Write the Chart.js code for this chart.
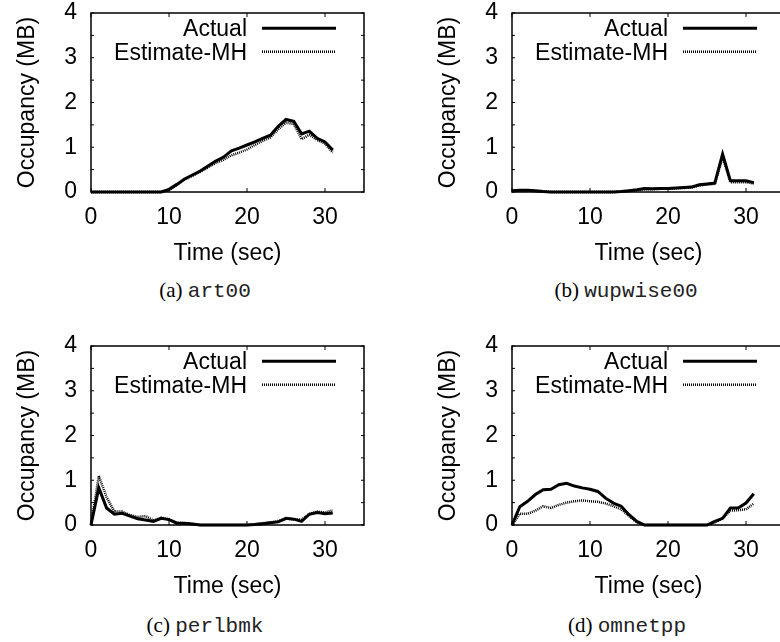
<!DOCTYPE html>
<html><head><meta charset="utf-8">
<script src="https://cdn.jsdelivr.net/npm/chart.js@4.4.1/dist/chart.umd.min.js"></script>
<style>
html,body{margin:0;padding:0;background:#fff;width:780px;height:642px;overflow:hidden;position:relative}
canvas{position:absolute}
.cap{position:absolute;font-family:"Liberation Serif","Times New Roman",serif;font-size:21px;color:#000;white-space:nowrap;transform:translate(-50%,-50%);line-height:1}
.cap .mono{font-family:"Liberation Mono","Courier New",monospace;font-size:21px;color:#222}
</style></head><body>
<canvas id="ca" width="390" height="270" style="left:0px;top:0px;width:390px;height:270px"></canvas>
<canvas id="cb" width="390" height="270" style="left:421px;top:0px;width:390px;height:270px"></canvas>
<canvas id="cc" width="390" height="270" style="left:0px;top:333px;width:390px;height:270px"></canvas>
<canvas id="cd" width="390" height="270" style="left:421px;top:333px;width:390px;height:270px"></canvas>
<div class="cap" style="left:205px;top:291px">(a) <span class="mono">art00</span></div>
<div class="cap" style="left:626px;top:291px">(b) <span class="mono">wupwise00</span></div>
<div class="cap" style="left:205px;top:626px">(c) <span class="mono">perlbmk</span></div>
<div class="cap" style="left:627px;top:626px">(d) <span class="mono">omnetpp</span></div>
<script>
const time = [0,1,2,3,4,5,6,7,8,9,10,11,12,13,14,15,16,17,18,19,20,21,22,23,24,25,26,27,28,29,30,31];
const xTicks = [0,10,20,30];
const yTicks = [0,1,2,3,4];
const seriesNames = ['Actual','Estimate-MH'];
const xTitle = 'Time (sec)';
const yTitle = 'Occupancy (MB)';

const art00Actual   = [0,0,0,0,0,0,0,0,0,0,0.06,0.17,0.29,0.38,0.47,0.58,0.69,0.78,0.92,0.98,1.05,1.12,1.2,1.27,1.47,1.62,1.58,1.3,1.36,1.2,1.12,0.94];
const art00Estimate = [0,0,0,0,0,0,0,0,0,0,0.04,0.16,0.28,0.36,0.45,0.55,0.65,0.72,0.82,0.88,0.95,1.05,1.14,1.22,1.4,1.55,1.52,1.18,1.28,1.16,1.08,0.88];
const wupwiseActual   = [0.03,0.04,0.04,0.03,0.01,0,0,0,0,0,0,0,0,0,0.01,0.03,0.05,0.08,0.07,0.08,0.08,0.09,0.1,0.11,0.16,0.18,0.2,0.85,0.25,0.25,0.25,0.21];
const wupwiseEstimate = [0.02,0.03,0.03,0.02,0.01,0,0,0,0,0,0,0,0,0,0.01,0.02,0.04,0.06,0.06,0.07,0.07,0.08,0.09,0.1,0.14,0.17,0.18,0.78,0.22,0.22,0.22,0.19];
const perlbmkActual   = [0,0.83,0.38,0.24,0.26,0.2,0.14,0.11,0.08,0.15,0.12,0.04,0.04,0.02,0,0,0,0,0,0,0,0.01,0.03,0.05,0.07,0.15,0.13,0.08,0.24,0.28,0.25,0.27];
const perlbmkEstimate = [0,1.1,0.62,0.3,0.3,0.22,0.18,0.2,0.1,0.16,0.13,0.05,0.04,0.02,0,0,0,0,0,0,0,0.02,0.04,0.06,0.09,0.14,0.13,0.12,0.25,0.3,0.28,0.33];
const omnetppActual   = [0,0.41,0.53,0.68,0.79,0.8,0.9,0.93,0.87,0.83,0.8,0.75,0.6,0.49,0.42,0.23,0.08,0,0,0,0,0,0,0,0,0,0.08,0.15,0.38,0.38,0.49,0.7];
const omnetppEstimate = [0,0.25,0.25,0.32,0.42,0.38,0.45,0.5,0.53,0.55,0.53,0.52,0.48,0.42,0.35,0.2,0.06,0,0,0,0,0,0,0,0,0,0.06,0.15,0.32,0.33,0.35,0.48];

const FONT = {family:'"Liberation Sans", Arial, sans-serif', size:23};

const framePlugin = {
  id:'frame',
  afterDatasetsDraw(chart){
    const {ctx, chartArea:a, scales} = chart;
    ctx.save();
    ctx.strokeStyle = '#000';
    ctx.lineWidth = 1.5;
    ctx.strokeRect(a.left, a.top, a.right - a.left, a.bottom - a.top);
    ctx.lineWidth = 1;
    ctx.beginPath();
    const yMarks = [];
    yTicks.forEach((v,i)=>{ yMarks.push(v); if (i < yTicks.length-1) yMarks.push((v + yTicks[i+1]) / 2); });
    yMarks.forEach(v=>{
      const py = scales.y.getPixelForValue(v);
      ctx.moveTo(a.left, py); ctx.lineTo(a.left + 3, py);
      ctx.moveTo(a.right, py); ctx.lineTo(a.right - 3, py);
    });
    xTicks.forEach(v=>{
      const px = scales.x.getPixelForValue(v);
      ctx.moveTo(px, a.bottom); ctx.lineTo(px, a.bottom - 4);
      ctx.moveTo(px, a.top); ctx.lineTo(px, a.top + 4);
    });
    ctx.stroke();
    ctx.restore();
  }
};

const legendPlugin = {
  id:'insideLegend',
  afterDatasetsDraw(chart){
    const {ctx, chartArea:a} = chart;
    ctx.save();
    ctx.font = FONT.size + 'px ' + FONT.family;
    ctx.textAlign = 'right';
    ctx.textBaseline = 'alphabetic';
    chart.data.datasets.forEach((ds,i)=>{
      const ly = a.top + 15.3 + i * 23.4;
      const x1 = a.right - 28, x0 = x1 - 74;
      ctx.strokeStyle = ds.borderColor;
      ctx.lineWidth = ds.borderWidth;
      ctx.setLineDash(ds.borderDash || []);
      ctx.beginPath(); ctx.moveTo(x0, ly); ctx.lineTo(x1, ly); ctx.stroke();
      ctx.setLineDash([]);
      ctx.fillStyle = '#000';
      ctx.fillText(ds.label, x0 - 15, ly + 8);
    });
    ctx.restore();
  }
};

function makeChart(id, actual, estimate){
  return new Chart(document.getElementById(id), {
    type:'line',
    data:{
      datasets:[
        {label:seriesNames[0], data:time.map((t,i)=>({x:t,y:actual[i]})), borderColor:'#000', borderWidth:3, pointRadius:0, tension:0, clip:false},
        {label:seriesNames[1], data:time.map((t,i)=>({x:t,y:estimate[i]})), borderColor:'#000', borderWidth:2.5, borderDash:[1,1], pointRadius:0, tension:0, clip:false}
      ]
    },
    options:{
      responsive:false, animation:false, events:[],
      layout:{padding:{left:0, top:13, right:26, bottom:0}},
      plugins:{legend:{display:false}, tooltip:{enabled:false}},
      scales:{
        x:{type:'linear', min:0, max:35,
           afterBuildTicks:s=>{ s.ticks = xTicks.map(v=>({value:v})); },
           afterFit:s=>{ s.height = 78; s.paddingLeft = 0; s.paddingRight = 0; },
           grid:{display:false, drawTicks:false}, border:{display:false},
           ticks:{padding:12, font:FONT, color:'#000', maxRotation:0},
           title:{display:true, text:xTitle, font:FONT, color:'#000', padding:{top:0, bottom:3}}},
        y:{type:'linear', min:0, max:4,
           afterBuildTicks:s=>{ s.ticks = yTicks.map(v=>({value:v})); },
           afterFit:s=>{ s.width = 91; s.paddingTop = 0; s.paddingBottom = 0; },
           grid:{display:false, drawTicks:false}, border:{display:false},
           ticks:{padding:14, font:FONT, color:'#000'},
           title:{display:true, text:yTitle, font:FONT, color:'#000', padding:{top:14, bottom:0}}}
      }
    },
    plugins:[framePlugin, legendPlugin]
  });
}

makeChart('ca', art00Actual, art00Estimate);
makeChart('cb', wupwiseActual, wupwiseEstimate);
makeChart('cc', perlbmkActual, perlbmkEstimate);
makeChart('cd', omnetppActual, omnetppEstimate);
</script>
</body></html>
